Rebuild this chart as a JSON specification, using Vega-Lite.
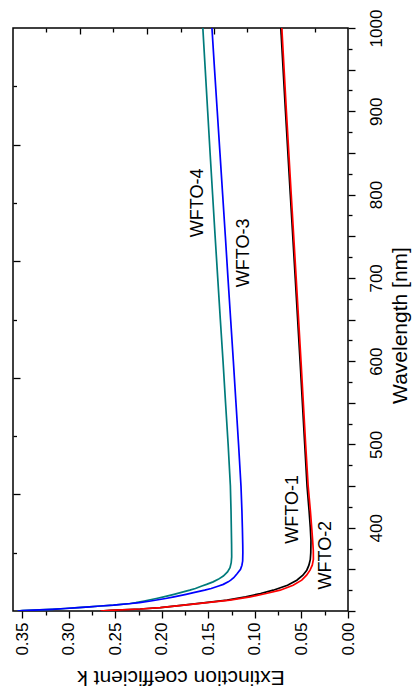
{
  "$schema": "https://vega.github.io/schema/vega-lite/v6.json",
  "width": 335,
  "height": 583,
  "autosize": {"type": "none"},
  "padding": {"left": 13, "top": 28, "right": 66, "bottom": 80},
  "background": "white",
  "config": {
    "view": {"stroke": "black", "strokeWidth": 1.5},
    "font": "Liberation Sans",
    "axis": {"domain": false, "grid": false, "tickColor": "black", "tickWidth": 1.3, "labelColor": "black", "titleColor": "black", "labelFont": "Liberation Sans", "titleFont": "Liberation Sans", "labelFontSize": 17, "titleFontSize": 21, "titleFontWeight": "normal", "labelOverlap": false, "labelFlush": false}
  },
  "datasets": {
    "curves": [
      {"s": "WFTO-1", "wl": 1000, "k": 0.0722}, {"s": "WFTO-1", "wl": 900, "k": 0.0672}, {"s": "WFTO-1", "wl": 800, "k": 0.062}, {"s": "WFTO-1", "wl": 700, "k": 0.0567}, {"s": "WFTO-1", "wl": 600, "k": 0.0515}, {"s": "WFTO-1", "wl": 500, "k": 0.0465}, {"s": "WFTO-1", "wl": 450, "k": 0.044}, {"s": "WFTO-1", "wl": 420, "k": 0.0418}, {"s": "WFTO-1", "wl": 400, "k": 0.0405}, {"s": "WFTO-1", "wl": 385, "k": 0.0398}, {"s": "WFTO-1", "wl": 370, "k": 0.04}, {"s": "WFTO-1", "wl": 362, "k": 0.0405}, {"s": "WFTO-1", "wl": 355, "k": 0.042}, {"s": "WFTO-1", "wl": 349, "k": 0.0443}, {"s": "WFTO-1", "wl": 343, "k": 0.0485}, {"s": "WFTO-1", "wl": 337, "k": 0.055}, {"s": "WFTO-1", "wl": 331, "k": 0.065}, {"s": "WFTO-1", "wl": 325, "k": 0.0804}, {"s": "WFTO-1", "wl": 321, "k": 0.094}, {"s": "WFTO-1", "wl": 317, "k": 0.11}, {"s": "WFTO-1", "wl": 313, "k": 0.13}, {"s": "WFTO-1", "wl": 310, "k": 0.153}, {"s": "WFTO-1", "wl": 307, "k": 0.177}, {"s": "WFTO-1", "wl": 304, "k": 0.2017}, {"s": "WFTO-1", "wl": 302.4, "k": 0.2231}, {"s": "WFTO-1", "wl": 300.8, "k": 0.2553}, {"s": "WFTO-1", "wl": 300, "k": 0.266},
      {"s": "WFTO-2", "wl": 1000, "k": 0.0711}, {"s": "WFTO-2", "wl": 900, "k": 0.0662}, {"s": "WFTO-2", "wl": 800, "k": 0.061}, {"s": "WFTO-2", "wl": 700, "k": 0.0557}, {"s": "WFTO-2", "wl": 600, "k": 0.0505}, {"s": "WFTO-2", "wl": 500, "k": 0.0455}, {"s": "WFTO-2", "wl": 450, "k": 0.0428}, {"s": "WFTO-2", "wl": 420, "k": 0.0404}, {"s": "WFTO-2", "wl": 400, "k": 0.039}, {"s": "WFTO-2", "wl": 385, "k": 0.038}, {"s": "WFTO-2", "wl": 373, "k": 0.0373}, {"s": "WFTO-2", "wl": 362, "k": 0.0372}, {"s": "WFTO-2", "wl": 355, "k": 0.0384}, {"s": "WFTO-2", "wl": 349, "k": 0.0408}, {"s": "WFTO-2", "wl": 343, "k": 0.0445}, {"s": "WFTO-2", "wl": 337, "k": 0.0497}, {"s": "WFTO-2", "wl": 331, "k": 0.059}, {"s": "WFTO-2", "wl": 325, "k": 0.0729}, {"s": "WFTO-2", "wl": 321, "k": 0.088}, {"s": "WFTO-2", "wl": 317, "k": 0.1051}, {"s": "WFTO-2", "wl": 313, "k": 0.127}, {"s": "WFTO-2", "wl": 310, "k": 0.1516}, {"s": "WFTO-2", "wl": 307, "k": 0.176}, {"s": "WFTO-2", "wl": 304, "k": 0.2017}, {"s": "WFTO-2", "wl": 302.4, "k": 0.2231}, {"s": "WFTO-2", "wl": 300.8, "k": 0.2553}, {"s": "WFTO-2", "wl": 300, "k": 0.266},
      {"s": "WFTO-3", "wl": 1000, "k": 0.1462}, {"s": "WFTO-3", "wl": 950, "k": 0.1434}, {"s": "WFTO-3", "wl": 900, "k": 0.1405}, {"s": "WFTO-3", "wl": 850, "k": 0.1376}, {"s": "WFTO-3", "wl": 800, "k": 0.1347}, {"s": "WFTO-3", "wl": 750, "k": 0.1318}, {"s": "WFTO-3", "wl": 700, "k": 0.129}, {"s": "WFTO-3", "wl": 650, "k": 0.1261}, {"s": "WFTO-3", "wl": 600, "k": 0.1232}, {"s": "WFTO-3", "wl": 550, "k": 0.1204}, {"s": "WFTO-3", "wl": 500, "k": 0.1176}, {"s": "WFTO-3", "wl": 450, "k": 0.115}, {"s": "WFTO-3", "wl": 420, "k": 0.114}, {"s": "WFTO-3", "wl": 400, "k": 0.1135}, {"s": "WFTO-3", "wl": 380, "k": 0.1131}, {"s": "WFTO-3", "wl": 370, "k": 0.113}, {"s": "WFTO-3", "wl": 360, "k": 0.1132}, {"s": "WFTO-3", "wl": 355, "k": 0.114}, {"s": "WFTO-3", "wl": 350, "k": 0.1155}, {"s": "WFTO-3", "wl": 345, "k": 0.119}, {"s": "WFTO-3", "wl": 340, "k": 0.1228}, {"s": "WFTO-3", "wl": 337, "k": 0.126}, {"s": "WFTO-3", "wl": 335, "k": 0.1287}, {"s": "WFTO-3", "wl": 332, "k": 0.134}, {"s": "WFTO-3", "wl": 330, "k": 0.139}, {"s": "WFTO-3", "wl": 327, "k": 0.147}, {"s": "WFTO-3", "wl": 325, "k": 0.154}, {"s": "WFTO-3", "wl": 322, "k": 0.166}, {"s": "WFTO-3", "wl": 320, "k": 0.174}, {"s": "WFTO-3", "wl": 317, "k": 0.187}, {"s": "WFTO-3", "wl": 315, "k": 0.196}, {"s": "WFTO-3", "wl": 312, "k": 0.212}, {"s": "WFTO-3", "wl": 310, "k": 0.224}, {"s": "WFTO-3", "wl": 309, "k": 0.233}, {"s": "WFTO-3", "wl": 307, "k": 0.252}, {"s": "WFTO-3", "wl": 306, "k": 0.266}, {"s": "WFTO-3", "wl": 305, "k": 0.278}, {"s": "WFTO-3", "wl": 304, "k": 0.29}, {"s": "WFTO-3", "wl": 303, "k": 0.304}, {"s": "WFTO-3", "wl": 302, "k": 0.318}, {"s": "WFTO-3", "wl": 301, "k": 0.338}, {"s": "WFTO-3", "wl": 300.5, "k": 0.35}, {"s": "WFTO-3", "wl": 300, "k": 0.355},
      {"s": "WFTO-4", "wl": 1000, "k": 0.156}, {"s": "WFTO-4", "wl": 950, "k": 0.1534}, {"s": "WFTO-4", "wl": 900, "k": 0.1508}, {"s": "WFTO-4", "wl": 850, "k": 0.1482}, {"s": "WFTO-4", "wl": 800, "k": 0.1455}, {"s": "WFTO-4", "wl": 750, "k": 0.1428}, {"s": "WFTO-4", "wl": 700, "k": 0.14}, {"s": "WFTO-4", "wl": 650, "k": 0.1372}, {"s": "WFTO-4", "wl": 600, "k": 0.1343}, {"s": "WFTO-4", "wl": 550, "k": 0.1316}, {"s": "WFTO-4", "wl": 500, "k": 0.1288}, {"s": "WFTO-4", "wl": 450, "k": 0.1264}, {"s": "WFTO-4", "wl": 420, "k": 0.1257}, {"s": "WFTO-4", "wl": 400, "k": 0.1254}, {"s": "WFTO-4", "wl": 380, "k": 0.1251}, {"s": "WFTO-4", "wl": 365, "k": 0.125}, {"s": "WFTO-4", "wl": 358, "k": 0.1255}, {"s": "WFTO-4", "wl": 352, "k": 0.1268}, {"s": "WFTO-4", "wl": 347, "k": 0.1295}, {"s": "WFTO-4", "wl": 342, "k": 0.134}, {"s": "WFTO-4", "wl": 338, "k": 0.1395}, {"s": "WFTO-4", "wl": 335, "k": 0.145}, {"s": "WFTO-4", "wl": 332, "k": 0.152}, {"s": "WFTO-4", "wl": 330, "k": 0.157}, {"s": "WFTO-4", "wl": 327, "k": 0.164}, {"s": "WFTO-4", "wl": 325, "k": 0.17}, {"s": "WFTO-4", "wl": 322, "k": 0.18}, {"s": "WFTO-4", "wl": 320, "k": 0.187}, {"s": "WFTO-4", "wl": 317, "k": 0.198}, {"s": "WFTO-4", "wl": 315, "k": 0.206}, {"s": "WFTO-4", "wl": 312, "k": 0.219}, {"s": "WFTO-4", "wl": 310, "k": 0.228}, {"s": "WFTO-4", "wl": 309, "k": 0.234}, {"s": "WFTO-4", "wl": 307, "k": 0.252}, {"s": "WFTO-4", "wl": 306, "k": 0.266}, {"s": "WFTO-4", "wl": 305, "k": 0.278}, {"s": "WFTO-4", "wl": 304, "k": 0.29}, {"s": "WFTO-4", "wl": 303, "k": 0.304}, {"s": "WFTO-4", "wl": 302, "k": 0.318}, {"s": "WFTO-4", "wl": 301, "k": 0.338}, {"s": "WFTO-4", "wl": 300.5, "k": 0.35}, {"s": "WFTO-4", "wl": 300, "k": 0.355}
    ],
    "labels": [
      {"t": "WFTO-4", "k": 0.1614, "wl": 790},
      {"t": "WFTO-3", "k": 0.1116, "wl": 730},
      {"t": "WFTO-1", "k": 0.0595, "wl": 422},
      {"t": "WFTO-2", "k": 0.0241, "wl": 367}
    ]
  },
  "layer": [
    {
      "data": {"name": "curves"},
      "transform": [{"filter": "datum.s === 'WFTO-1'"}],
      "mark": {"type": "line", "color": "black", "strokeWidth": 1.7, "clip": true},
      "encoding": {
        "x": {"field": "k", "type": "quantitative", "scale": {"domain": [0, 0.36], "reverse": true, "nice": false, "zero": false},
          "axis": {"orient": "bottom", "values": [0, 0.025, 0.05, 0.075, 0.1, 0.125, 0.15, 0.175, 0.2, 0.225, 0.25, 0.275, 0.3, 0.325, 0.35],
            "labelExpr": "round(datum.value*1000) % 50 === 0 ? format(datum.value, '.2f') : ''",
            "tickSize": {"condition": {"test": "round(datum.value*1000) % 50 !== 0", "value": 4}, "value": 7},
            "labelAngle": 270, "labelAlign": "right", "labelBaseline": "middle", "labelPadding": 4,
            "title": "Extinction coefficient k", "titleAngle": 180, "titleBaseline": "middle", "titleAlign": "center", "titleY": 65, "titleX": 167.5}},
        "y": {"field": "wl", "type": "quantitative", "scale": {"domain": [300, 1000], "nice": false, "zero": false},
          "axis": {"orient": "right", "values": [300, 325, 350, 375, 400, 425, 450, 475, 500, 525, 550, 575, 600, 625, 650, 675, 700, 725, 750, 775, 800, 825, 850, 875, 900, 925, 950, 975, 1000],
            "labelExpr": "datum.value % 100 === 0 && datum.value > 300 ? datum.value + '' : ''",
            "tickSize": {"condition": {"test": "datum.value % 50 !== 0", "value": 4}, "value": 7},
            "labelAngle": 270, "labelAlign": "center", "labelBaseline": "top", "labelPadding": 13,
            "title": "Wavelength [nm]", "titleAngle": 270, "titleBaseline": "middle", "titleAlign": "center", "titleX": 52, "titleY": 297}},
        "order": {"field": "wl", "type": "quantitative"}
      }
    },
    {
      "data": {"name": "curves"},
      "transform": [{"filter": "datum.s === 'WFTO-2'"}],
      "mark": {"type": "line", "color": "#ff0000", "strokeWidth": 1.7, "clip": true},
      "encoding": {
        "x": {"field": "k", "type": "quantitative", "axis": null},
        "y": {"field": "wl", "type": "quantitative", "axis": null},
        "order": {"field": "wl", "type": "quantitative"}
      }
    },
    {
      "data": {"name": "curves"},
      "transform": [{"filter": "datum.s === 'WFTO-4'"}],
      "mark": {"type": "line", "color": "#007b7b", "strokeWidth": 1.7, "clip": true},
      "encoding": {
        "x": {"field": "k", "type": "quantitative", "axis": null},
        "y": {"field": "wl", "type": "quantitative", "axis": null},
        "order": {"field": "wl", "type": "quantitative"}
      }
    },
    {
      "data": {"name": "curves"},
      "transform": [{"filter": "datum.s === 'WFTO-3'"}],
      "mark": {"type": "line", "color": "#0000ff", "strokeWidth": 1.7, "clip": true},
      "encoding": {
        "x": {"field": "k", "type": "quantitative", "axis": null},
        "y": {"field": "wl", "type": "quantitative", "axis": null},
        "order": {"field": "wl", "type": "quantitative"}
      }
    },
    {
      "data": {"name": "labels"},
      "mark": {"type": "text", "angle": 270, "fontSize": 18, "font": "Liberation Sans", "color": "black", "align": "center", "baseline": "middle"},
      "encoding": {
        "x": {"field": "k", "type": "quantitative",
          "axis": {"orient": "top", "values": [0.036, 0.072, 0.108, 0.144, 0.18, 0.216, 0.252, 0.288, 0.324], "labels": false, "title": null,
            "tickSize": {"condition": {"test": "round(datum.value*1000) % 72 === 0", "value": -6}, "value": -4}}},
        "y": {"field": "wl", "type": "quantitative",
          "axis": {"orient": "left", "values": [370, 440, 510, 580, 650, 720, 790, 860, 930], "labels": false, "title": null,
            "tickSize": {"condition": {"test": "datum.value % 140 === 20", "value": -7}, "value": -3.5}}},
        "text": {"field": "t"}
      }
    }
  ],
  "resolve": {"axis": {"x": "independent", "y": "independent"}}
}
